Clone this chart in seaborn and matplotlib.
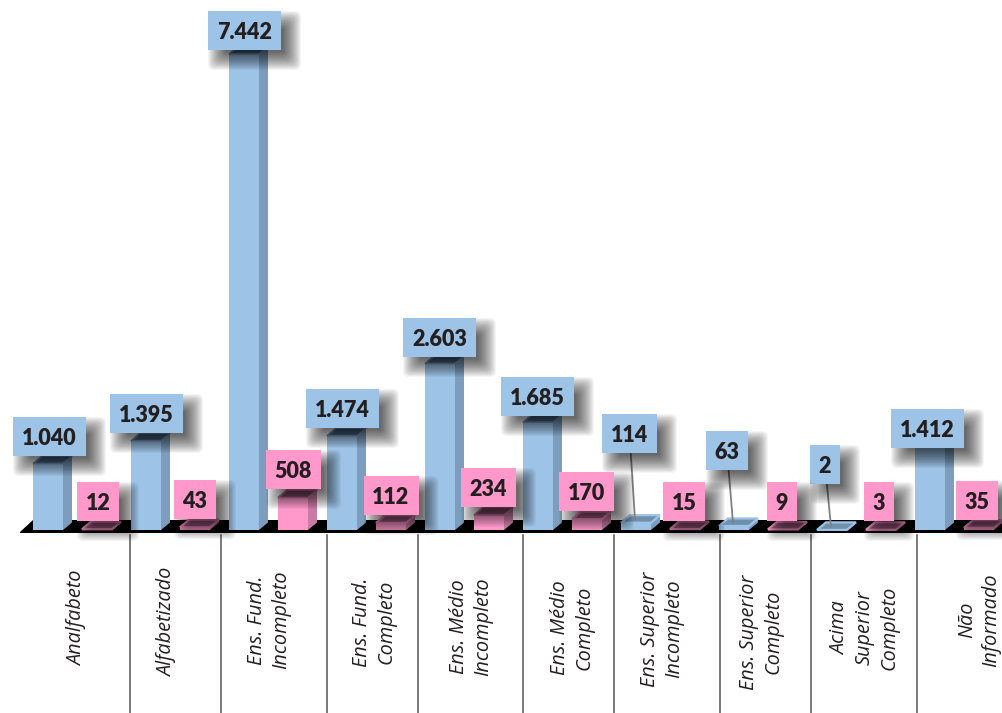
import pandas as pd
import matplotlib
matplotlib.use("Agg")
import matplotlib.pyplot as plt
import seaborn as sns
from matplotlib.patches import FancyBboxPatch, Polygon, Rectangle
from matplotlib.transforms import Affine2D

# values
categorias = ["Analfabeto", "Alfabetizado", "Ens. Fund.\nIncompleto", "Ens. Fund.\nCompleto",
              "Ens. Médio\nIncompleto", "Ens. Médio\nCompleto", "Ens. Superior\nIncompleto",
              "Ens. Superior\nCompleto", "Acima\nSuperior\nCompleto", "Não\nInformado"]
masculino = [1040, 1395, 7442, 1474, 2603, 1685, 114, 63, 2, 1412]
feminino = [12, 43, 508, 112, 234, 170, 15, 9, 3, 35]

W, H = 1003, 713
BLUE, PINK = "#9DC3E6", "#FF99CC"
INK = "#231F20"
DEPTH_X, DEPTH_Y = 9, 7.5

# label box offset from the top of its bar, in pixels
blue_offsets = [(1.5, -27), (0.5, -27.3), (0.5, -23.5), (0.5, -27.2), (-0.5, -26),
                (-0.5, -25.7), (-6.5, -89.2), (-7, -75.5), (-7, -65.4), (-2.5, -11.2)]
pink_offsets = [(1, -27.7), (0, -27.7), (0.5, -28), (0, -27.3), (-0.5, -27.5),
                (-0.5, -27.6), (-1, -27.5), (-1, -27.9), (-2, -28.3), (-2, -27.3)]
box_widths = {1: 30, 2: 42, 3: 55, 5: 73}
BOX_H = 39

divisores = [130, 220.5, 326.5, 417.5, 522.5, 614, 720, 810.5, 916.5]
label_pos = [(77.5, 618), (167.5, 622), (269, 620), (374, 622), (471, 627),
             (572, 628), (662, 629), (761, 632), (865, 628), (979, 620)]

df = pd.DataFrame({
    "escolaridade": categorias * 2,
    "total": masculino + feminino,
    "sexo": ["M"] * len(masculino) + ["F"] * len(feminino),
})

fig = plt.figure(figsize=(W / 100, H / 100), dpi=100)
ax = fig.add_axes([0, 0, 1, 1])
sns.barplot(data=df, x="escolaridade", y="total", hue="sexo", palette={"M": BLUE, "F": PINK},
            width=1, gap=0.388, saturation=1, legend=False, zorder=3, ax=ax)
ax.set_xlim(-72.5 / 98, (W - 72.5) / 98)
ax.set_ylim(-183 / 0.06396, 530 / 0.06396)
ax.axis("off")

# pixel coordinates with y going down, same as the reference
px = Affine2D().scale(1, -1).translate(0, H)


def to_px(x, y):
    dx, dy = ax.transData.transform((x, y))
    return dx, H - dy


def soft_shadow(x0, y0, w, h, z):
    # stacked see-through boxes, cheap blur
    for inset in range(8, -11, -1):
        r = 9 - inset
        ax.add_patch(FancyBboxPatch((x0 + 10 + inset + 6, y0 + 10 + inset + 6),
                                    w - 2 * inset - 12, h - 2 * inset - 12,
                                    boxstyle=f"round,pad=6,rounding_size={min(r, 6)}",
                                    fc="black", ec="none", alpha=0.045, transform=px, zorder=z))


# black floor under the bars
ax.add_patch(Polygon([(20, 532), (33, 520), (W, 520), (W, 533), (20, 533)], fc="black", ec="none",
                     transform=px, zorder=1))

# divider lines and category names
for x in divisores:
    ax.plot([x, x], [535, H], color="#555555", lw=1.1, transform=px, zorder=1)
for nome, (x, y) in zip(categorias, label_pos):
    ax.text(x, y, nome, transform=px, rotation=90, ha="center", va="center", ma="center",
            family="Open Sans", style="italic", fontsize=14.3, color=INK, linespacing=1.3)

series = [(ax.containers[0], masculino, blue_offsets, BLUE, "#7C9DBD", "#4E6A86", "#6F8FAD"),
          (ax.containers[1], feminino, pink_offsets, PINK, "#C87BA4", "#8A4F6D", "#A8618A")]

z = 10
for container, valores, offsets, cor, lado, topo, plano in series:
    for bar, valor, (ox, oy) in zip(container, valores, offsets):
        x0, y1 = to_px(bar.get_x(), 0)
        x1, y0 = to_px(bar.get_x() + bar.get_width(), valor)
        flat = y1 - y0 < 12

        # side and top faces of the fake 3d bar
        ax.add_patch(Polygon([(x1, y0), (x1 + DEPTH_X, y0 - DEPTH_Y), (x1 + DEPTH_X, y1 - DEPTH_Y), (x1, y1)],
                             fc=lado, ec="none", transform=px, zorder=4))
        ax.add_patch(Polygon([(x0, y0), (x1, y0), (x1 + DEPTH_X, y0 - DEPTH_Y), (x0 + DEPTH_X, y0 - DEPTH_Y)],
                             fc=plano if flat else topo, ec=cor if flat else lado, lw=1.6 if flat else 1.2,
                             transform=px, zorder=4))

        # value label in its box
        texto = f"{valor:,}".replace(",", ".")
        w = box_widths[len(texto)]
        cx, cy = (x0 + x1) / 2 + ox, y0 + oy
        if oy < -40:
            ax.plot([cx, (x0 + x1) / 2 - 1], [cy, y0 - 3], color="#808080", lw=1.3, transform=px, zorder=5)
        soft_shadow(cx - w / 2, cy - BOX_H / 2, w, BOX_H, z)
        ax.add_patch(Rectangle((cx - w / 2, cy - BOX_H / 2), w, BOX_H, fc=cor, ec="none",
                               transform=px, zorder=z + 1))
        ax.text(cx, cy, texto, transform=px, ha="center", va="center_baseline", family="Lato",
                weight="heavy", fontsize=15.5, color=INK, zorder=z + 2)
        z += 3

fig.savefig("out.png", dpi=100)
